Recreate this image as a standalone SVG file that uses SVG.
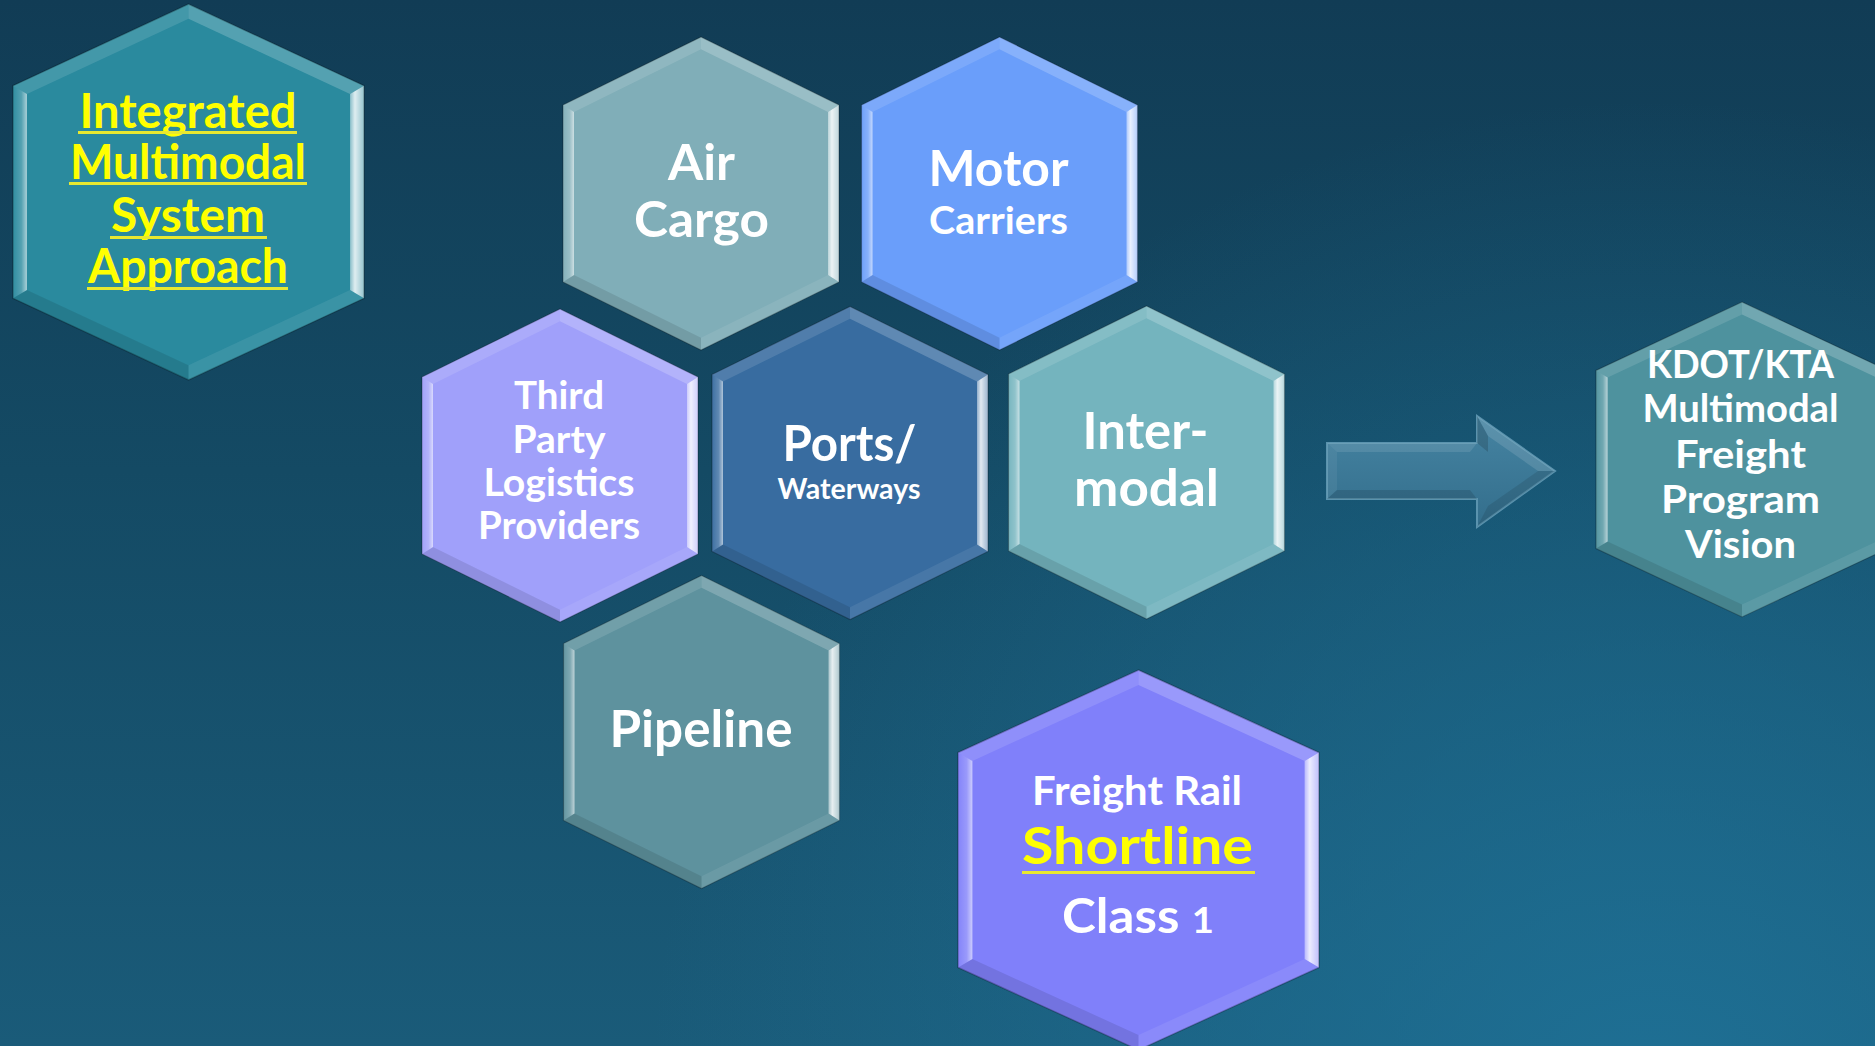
<svg xmlns="http://www.w3.org/2000/svg" xmlns:xlink="http://www.w3.org/1999/xlink" width="1875" height="1046" viewBox="0 0 1875 1046">
  <defs>
    <linearGradient id="bg" x1="0" y1="0" x2="0" y2="1">
      <stop offset="0" stop-color="#113c55"/>
      <stop offset="0.45" stop-color="#144a64"/>
      <stop offset="1" stop-color="#1a5b79"/>
    </linearGradient>
    <radialGradient id="bgGlow" cx="1650" cy="1100" r="1000" gradientUnits="userSpaceOnUse">
      <stop offset="0" stop-color="#1f7399" stop-opacity="0.85"/>
      <stop offset="1" stop-color="#1f7399" stop-opacity="0"/>
    </radialGradient>
    <linearGradient id="rightHi" x1="0" y1="0" x2="1" y2="0">
      <stop offset="0" stop-color="#ffffff" stop-opacity="0.45"/>
      <stop offset="0.35" stop-color="#ffffff" stop-opacity="0.85"/>
      <stop offset="1" stop-color="#ffffff" stop-opacity="0.5"/>
    </linearGradient>
    <linearGradient id="leftHi" x1="0" y1="0" x2="1" y2="0">
      <stop offset="0" stop-color="#ffffff" stop-opacity="0.03"/>
      <stop offset="0.6" stop-color="#ffffff" stop-opacity="0.2"/>
      <stop offset="1" stop-color="#ffffff" stop-opacity="0.6"/>
    </linearGradient>
    <linearGradient id="arrowFill" x1="0" y1="0" x2="0" y2="1">
      <stop offset="0" stop-color="#4684a2"/>
      <stop offset="1" stop-color="#336e8c"/>
    </linearGradient>
    <g id="hex">
      <polygon points="0,-156.5 138,-88.5 138,88.5 0,156.5 -138,88.5 -138,-88.5"/>
      <polygon points="-138,-88.5 0,-156.5 0,-144.2 -127,-81.6" fill="#ffffff" fill-opacity="0.12"/>
      <polygon points="0,-156.5 138,-88.5 127,-81.6 0,-144.2" fill="#ffffff" fill-opacity="0.2"/>
      <polygon points="138,-88.5 138,88.5 127,81.6 127,-81.6" fill="url(#rightHi)"/>
      <polygon points="138,88.5 0,156.5 0,144.2 127,81.6" fill="#ffffff" fill-opacity="0.08"/>
      <polygon points="0,156.5 -138,88.5 -127,81.6 0,144.2" fill="#000000" fill-opacity="0.1"/>
      <polygon points="-138,88.5 -138,-88.5 -127,-81.6 -127,81.6" fill="url(#leftHi)"/>
      <polygon points="0,-156.5 138,-88.5 138,88.5 0,156.5 -138,88.5 -138,-88.5" fill="none" stroke="#000000" stroke-opacity="0.25" stroke-width="1.2"/>
    </g>
  </defs>
  <style>
    text { font-family: Lato, "Open Sans", "Liberation Sans", sans-serif; font-weight: 700; text-anchor: middle; fill: #ffffff; }
    .yel { fill: #ffff00; }
    .ul { fill: #e8e830; }
  </style>

  <rect x="0" y="0" width="1875" height="1046" fill="url(#bg)"/>
  <rect x="0" y="0" width="1875" height="1046" fill="url(#bgGlow)"/>

  <g id="connectors">
    <g id="arrow">
      <polygon points="1327,443 1477,443 1477,416 1555,471 1477,527 1477,499 1327,499" fill="url(#arrowFill)" stroke="#5a93ae" stroke-width="2"/>
      <polygon points="1327,443 1477,443 1470,452 1337,452" fill="#ffffff" fill-opacity="0.1"/>
      <polygon points="1327,443 1337,452 1337,490 1327,499" fill="#ffffff" fill-opacity="0.06"/>
      <polygon points="1327,499 1337,490 1470,490 1477,499" fill="#000000" fill-opacity="0.12"/>
      <polygon points="1477,416 1555,471 1538,471 1488,436" fill="#ffffff" fill-opacity="0.12"/>
      <polygon points="1555,471 1477,527 1488,506 1538,471" fill="#000000" fill-opacity="0.1"/>
      <polygon points="1477,416 1488,436 1488,452 1477,443" fill="#000000" fill-opacity="0.15"/>
    </g>
  </g>

  <g id="node-integrated">
    <use xlink:href="#hex" href="#hex" fill="#2a8a9e" transform="translate(188.5,192) scale(1.272,1.201)"/>
    <text class="yel" x="188" y="128" font-size="47" textLength="217" lengthAdjust="spacingAndGlyphs">Integrated</text>
    <rect class="ul" x="78" y="131" width="219" height="3"/>
    <text class="yel" x="188" y="179" font-size="47" textLength="236" lengthAdjust="spacingAndGlyphs">Multimodal</text>
    <rect class="ul" x="69" y="182" width="238" height="3"/>
    <text class="yel" x="188" y="232" font-size="47" textLength="154" lengthAdjust="spacingAndGlyphs">System</text>
    <rect class="ul" x="110" y="236" width="157" height="3"/>
    <text class="yel" x="188" y="283" font-size="47" textLength="200" lengthAdjust="spacingAndGlyphs">Approach</text>
    <rect class="ul" x="87" y="287" width="201" height="3"/>
  </g>

  <g id="node-aircargo">
    <use xlink:href="#hex" href="#hex" fill="#80aeb8" transform="translate(701,193.5)"/>
    <text x="701.5" y="180" font-size="50" textLength="67" lengthAdjust="spacingAndGlyphs">Air</text>
    <text x="701.5" y="237" font-size="50" textLength="135" lengthAdjust="spacingAndGlyphs">Cargo</text>
  </g>

  <g id="node-motor">
    <use xlink:href="#hex" href="#hex" fill="#6a9efa" transform="translate(999.5,193.5)"/>
    <text x="998.5" y="186" font-size="50" textLength="140" lengthAdjust="spacingAndGlyphs">Motor</text>
    <text x="998.5" y="234" font-size="38" textLength="139" lengthAdjust="spacingAndGlyphs">Carriers</text>
  </g>

  <g id="node-thirdparty">
    <use xlink:href="#hex" href="#hex" fill="#a0a0fa" transform="translate(560,465.5)"/>
    <text x="559" y="409" font-size="39" textLength="90" lengthAdjust="spacingAndGlyphs">Third</text>
    <text x="559" y="453" font-size="39" textLength="93" lengthAdjust="spacingAndGlyphs">Party</text>
    <text x="559" y="496" font-size="39" textLength="151" lengthAdjust="spacingAndGlyphs">Logistics</text>
    <text x="559" y="539" font-size="39" textLength="162" lengthAdjust="spacingAndGlyphs">Providers</text>
  </g>

  <g id="node-ports">
    <use xlink:href="#hex" href="#hex" fill="#386ca0" transform="translate(850,463)"/>
    <text x="849.5" y="461" font-size="49" textLength="134" lengthAdjust="spacingAndGlyphs">Ports/</text>
    <text x="849" y="499" font-size="29" textLength="143" lengthAdjust="spacingAndGlyphs">Waterways</text>
  </g>

  <g id="node-intermodal">
    <use xlink:href="#hex" href="#hex" fill="#74b4be" transform="translate(1146.5,462.5)"/>
    <text x="1145.5" y="449" font-size="52" textLength="126" lengthAdjust="spacingAndGlyphs">Inter-</text>
    <text x="1146.5" y="506" font-size="52" textLength="145" lengthAdjust="spacingAndGlyphs">modal</text>
  </g>

  <g id="node-pipeline">
    <use xlink:href="#hex" href="#hex" fill="#5e929e" transform="translate(701.5,732)"/>
    <text x="701" y="747" font-size="51" textLength="183" lengthAdjust="spacingAndGlyphs">Pipeline</text>
  </g>

  <g id="node-freightrail">
    <use xlink:href="#hex" href="#hex" fill="#8080fa" transform="translate(1138.5,860) scale(1.308,1.214)"/>
    <text x="1137" y="805" font-size="40" textLength="210" lengthAdjust="spacingAndGlyphs">Freight Rail</text>
    <text class="yel" x="1137.5" y="864" font-size="52" textLength="231" lengthAdjust="spacingAndGlyphs">Shortline</text>
    <rect class="ul" x="1022" y="871" width="233" height="3"/>
    <text x="1138" y="933" font-size="48" textLength="152" lengthAdjust="spacingAndGlyphs">Class <tspan font-size="36">1</tspan></text>
  </g>

  <g id="node-kdot">
    <use xlink:href="#hex" href="#hex" fill="#4e929e" transform="translate(1742,459.5) scale(1.058,1.006)"/>
    <text x="1740.5" y="378" font-size="39" textLength="187" lengthAdjust="spacingAndGlyphs">KDOT/KTA</text>
    <text x="1740.5" y="422" font-size="39" textLength="196" lengthAdjust="spacingAndGlyphs">Multimodal</text>
    <text x="1740.5" y="468" font-size="39" textLength="131" lengthAdjust="spacingAndGlyphs">Freight</text>
    <text x="1740.5" y="513" font-size="39" textLength="159" lengthAdjust="spacingAndGlyphs">Program</text>
    <text x="1740.5" y="558" font-size="39" textLength="111" lengthAdjust="spacingAndGlyphs">Vision</text>
  </g>
</svg>
